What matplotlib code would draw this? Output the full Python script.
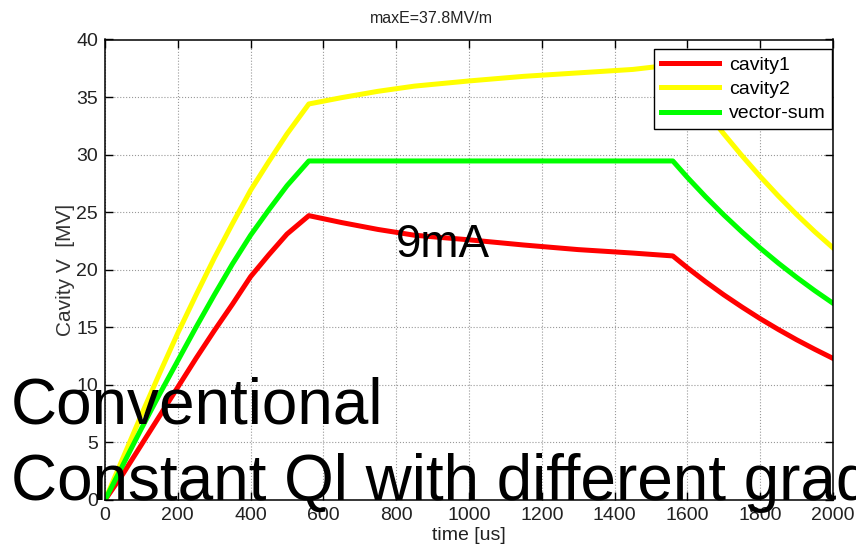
import matplotlib.pyplot as plt

plt.rcParams['font.family'] = ['Liberation Sans', 'DejaVu Sans']

# time axis [us] and cavity voltages [MV]
time_us = [0, 50, 100, 150, 200, 250, 300, 350, 400, 450, 500, 560,
           650, 750, 850, 1000, 1150, 1300, 1450, 1560,
           1600, 1650, 1700, 1750, 1800, 1850, 1900, 1950, 2000]
cavity1 = [0, 2.3, 4.8, 7.3, 9.8, 12.3, 14.7, 17.0, 19.4, 21.3, 23.1, 24.7,
           24.1, 23.5, 23.0, 22.6, 22.15, 21.75, 21.45, 21.2,
           20.17, 18.96, 17.82, 16.76, 15.75, 14.81, 13.92, 13.09, 12.3]
cavity2 = [0, 3.7, 7.4, 11.0, 14.5, 17.8, 21.0, 24.0, 26.9, 29.4, 31.8, 34.4,
           34.95, 35.5, 35.95, 36.4, 36.8, 37.1, 37.4, 37.8,
           36.0, 33.8, 31.8, 29.9, 28.1, 26.4, 24.8, 23.3, 21.9]
vector_sum = [0, 3.1, 6.2, 9.2, 12.1, 15.0, 17.8, 20.5, 23.0, 25.2, 27.3, 29.45,
              29.45, 29.45, 29.45, 29.45, 29.45, 29.45, 29.45, 29.45,
              28.02, 26.34, 24.76, 23.28, 21.88, 20.57, 19.34, 18.18, 17.09]

series = [('cavity1', cavity1, '#ff0000'),
          ('cavity2', cavity2, '#ffff00'),
          ('vector-sum', vector_sum, '#00ff00')]

fig = plt.figure(figsize=(8.56, 5.54), dpi=100)
ax = fig.add_axes([105 / 856, 54 / 554, 728 / 856, 460.5 / 554])

for name, vals, col in series:
    ax.plot(time_us, vals, color=col, lw=3.6, label=name)

ax.set_xlim(0, 2000)
ax.set_ylim(0, 40)
ax.set_xticks(range(0, 2001, 200))
ax.set_yticks(range(0, 41, 5))
ax.grid(True, ls=':', lw=0.8, color='#999999')
ax.tick_params(direction='in', length=6, width=1, top=True, right=True,
               labelsize=14, labelcolor='#222222', pad=5)
for sp in ax.spines.values():
    sp.set_linewidth(1.1)

ax.set_title('maxE=37.8MV/m', fontsize=11.5, color='#222222', pad=12, x=0.448)
ax.set_xlabel('time [us]', fontsize=14, color='#222222', labelpad=2)
ax.set_ylabel('Cavity V  [MV]', fontsize=15, color='#333333', labelpad=1)

leg = ax.legend(loc='upper right', bbox_to_anchor=(0.999, 0.979), borderaxespad=0,
                fontsize=14, handlelength=3.0, handletextpad=0.5, labelspacing=0.35,
                borderpad=0.35, fancybox=False, framealpha=1, edgecolor='black')
leg.get_frame().set_linewidth(1.0)

fig.text(396 / 856, 1 - 257 / 554, '9mA', fontsize=33, color='black')
fig.text(11 / 856, 1 - 423 / 554, 'Conventional', fontsize=46, color='black')
fig.text(11 / 856, 1 - 500 / 554, 'Constant Ql with different gradients',
         fontsize=46, color='black')

fig.savefig('out.png', dpi=100)
